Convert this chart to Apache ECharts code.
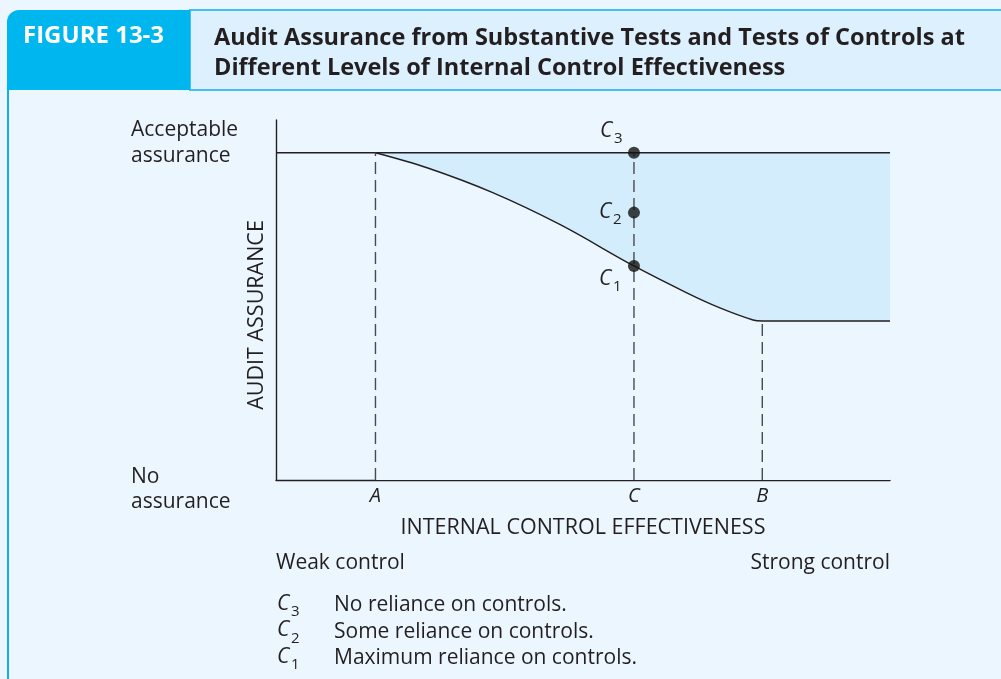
<!DOCTYPE html>
<html>
<head>
<meta charset="utf-8">
<script src="https://cdn.jsdelivr.net/npm/echarts@6/dist/echarts.min.js"></script>
<style>
html,body{margin:0;padding:0;background:#fff;}
#chart{width:1001px;height:679px;}
</style>
</head>
<body>
<div id="chart"></div>
<script>
// points A, C, B on the effectiveness axis (0..100)
var pointA = 16.2, pointC = 58.3, pointB = 79.2;
// assurance curve from substantive tests
var curveX = [16.2, 24.6, 35.3, 46.3, 58.3, 66.9, 72.3, 77.7, 79.2, 100];
var curveY = [100, 95.4, 87.8, 78.0, 65.4, 57.2, 52.6, 48.9, 48.6, 48.6];
var acceptable = 100;
// C3, C2, C1 levels at point C
var cLevels = [100, 81.7, 65.4];
var cNames = ['3', '2', '1'];
var tickLabels = ['A', 'C', 'B'];

var ink = '#231f20';
var bg = '#ebf6fe';
var font = '"Open Sans"';

var myChart = echarts.init(document.getElementById('chart'));

var curveData = curveX.map(function (x, i) { return [x, curveY[i]]; });

function dashed(x, y0, y1) {
    return {
        type: 'line', silent: true, symbol: 'none', z: 5,
        data: [[x, y0], [x, y1]],
        lineStyle: { color: '#4a4a4a', width: 1.4, type: [12, 6] }
    };
}

// C with a subscript, drawn as two text pieces
function cLabel(x, y, sub) {
    return [
        { type: 'text', silent: true, z: 10, x: x, y: y, style: { text: 'C', fill: ink, font: 'italic 21px ' + font, align: 'left', verticalAlign: 'middle' } },
        { type: 'text', silent: true, z: 10, x: x + 14, y: y + 8, style: { text: sub, fill: ink, font: '15px ' + font, align: 'left', verticalAlign: 'middle' } }
    ];
}

myChart.setOption({
    backgroundColor: bg,
    animation: false,
    grid: { left: 276, top: 120, width: 614, height: 360 },
    xAxis: {
        type: 'value', min: 0, max: 100,
        axisLine: { show: true, onZero: false, lineStyle: { color: ink, width: 1.4 } },
        axisTick: { show: false }, axisLabel: { show: false }, splitLine: { show: false }
    },
    yAxis: {
        type: 'value', min: 0, max: 110,
        axisLine: { show: true, onZero: false, lineStyle: { color: ink, width: 1.4 } },
        axisTick: { show: false }, axisLabel: { show: false }, splitLine: { show: false }
    },
    series: [
        {   // shaded band: tests of controls
            type: 'line', silent: true, symbol: 'none', z: 1,
            data: [[pointA, acceptable], [100, acceptable]],
            lineStyle: { width: 0 },
            areaStyle: { color: '#d3edfc', opacity: 1 }
        },
        {   // substantive tests curve, paints background under it
            type: 'line', silent: true, symbol: 'none', z: 2, smooth: 0.35,
            data: curveData,
            lineStyle: { color: ink, width: 1.4 },
            areaStyle: { color: bg, opacity: 1 }
        },
        {   // acceptable assurance line
            type: 'line', silent: true, symbol: 'none', z: 3,
            data: [[0, acceptable], [100, acceptable]],
            lineStyle: { color: ink, width: 1.4 }
        },
        dashed(pointA, 0, acceptable),
        dashed(pointC, 0, acceptable),
        dashed(pointB, 0, curveY[curveY.length - 1]),
        {
            type: 'scatter', silent: true, z: 6, symbolSize: 12,
            itemStyle: { color: '#111' },
            data: cLevels.map(function (v) { return [pointC, v]; })
        }
    ]
});

// labels placed from the chart's own scales
var graphics = [
    // frame and header
    { type: 'rect', silent: true, shape: { x: 7, y: 89, width: 2, height: 600 }, style: { fill: '#14aee9' } },
    { type: 'rect', silent: true, shape: { x: 190, y: 10, width: 820, height: 80 }, style: { fill: '#ddf0fd', stroke: '#45bdee', lineWidth: 2 } },
    { type: 'rect', silent: true, shape: { x: 7, y: 10, width: 183, height: 80, r: [12, 0, 0, 0] }, style: { fill: '#00b6ef' } },
    { type: 'text', silent: true, left: 23, top: 24, style: { text: 'FIGURE 13-3', fill: '#fff', font: 'bold 24px ' + font } },
    { type: 'text', silent: true, left: 214, top: 23, style: { text: 'Audit Assurance from Substantive Tests and Tests of Controls at\nDifferent Levels of Internal Control Effectiveness', fill: ink, font: 'bold 23.5px ' + font, lineHeight: 30 } },
    // y side labels
    { type: 'text', silent: true, left: 131, top: 117, style: { text: 'Acceptable\nassurance', fill: ink, font: '21px ' + font, lineHeight: 26 } },
    { type: 'text', silent: true, left: 131, top: 465, style: { text: 'No\nassurance', fill: ink, font: '21px ' + font, lineHeight: 25 } },
    { type: 'text', silent: true, x: 257, y: 315, rotation: Math.PI / 2, style: { text: 'AUDIT ASSURANCE', fill: ink, font: '21.5px ' + font, align: 'center', verticalAlign: 'middle' } },
    { type: 'text', silent: true, x: 583, y: 528, style: { text: 'INTERNAL CONTROL EFFECTIVENESS', fill: ink, font: '21.5px ' + font, align: 'center', verticalAlign: 'middle' } },
    { type: 'text', silent: true, x: 276, y: 563, style: { text: 'Weak control', fill: ink, font: '21px ' + font, align: 'left', verticalAlign: 'middle' } },
    { type: 'text', silent: true, x: 890, y: 563, style: { text: 'Strong control', fill: ink, font: '21px ' + font, align: 'right', verticalAlign: 'middle' } },
    // region notes
    { type: 'text', silent: true, left: 424, top: 306, style: { text: 'Audit assurance\nfrom substantive\ntests', fill: ink, font: '21px ' + font, lineHeight: 25 } },
    { type: 'text', silent: true, left: 655, top: 168, style: { text: 'Audit assurance\nfrom control risk\nassessment and\ntests of controls', fill: ink, font: '21px ' + font, lineHeight: 25 } },
    // key
    { type: 'text', silent: true, left: 334, top: 592, style: { text: 'No reliance on controls.\nSome reliance on controls.\nMaximum reliance on controls.', fill: ink, font: '21px ' + font, lineHeight: 26.5 } }
];

[pointA, pointC, pointB].forEach(function (x, i) {
    var p = myChart.convertToPixel({ gridIndex: 0 }, [x, 0]);
    graphics.push({ type: 'text', silent: true, x: p[0], y: p[1] + 16, style: { text: tickLabels[i], fill: ink, font: 'italic 20px ' + font, align: 'center', verticalAlign: 'middle' } });
});

var cOffsets = [[-34, -22], [-35, -1], [-35, 13]];
cLevels.forEach(function (v, i) {
    var p = myChart.convertToPixel({ gridIndex: 0 }, [pointC, v]);
    graphics = graphics.concat(cLabel(p[0] + cOffsets[i][0], p[1] + cOffsets[i][1], cNames[i]));
    graphics = graphics.concat(cLabel(277, 604 + i * 26.5, cNames[i]));
});

myChart.setOption({ graphic: graphics });
</script>
</body>
</html>
